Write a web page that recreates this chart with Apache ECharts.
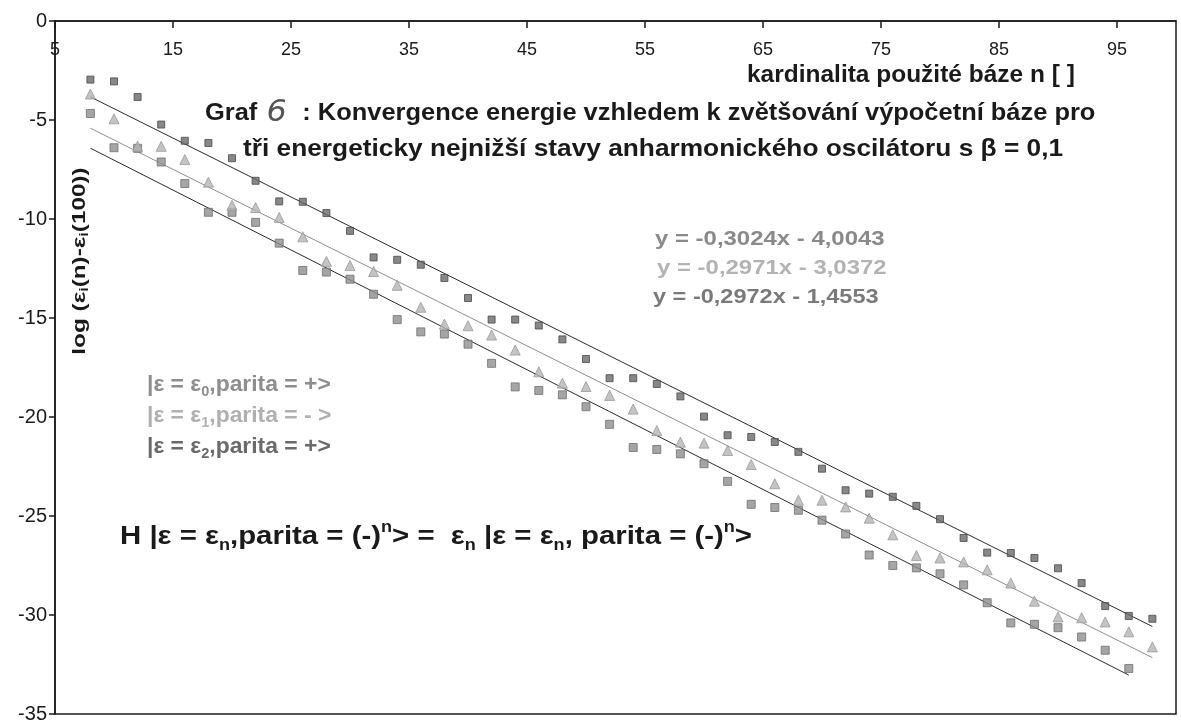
<!DOCTYPE html>
<html>
<head>
<meta charset="utf-8">
<script src="https://cdn.jsdelivr.net/npm/echarts@6/dist/echarts.min.js"></script>
<style>
  html, body { margin: 0; padding: 0; background: #fff; }
  #chart { width: 1181px; height: 724px; }
</style>
</head>
<body>
<div id="chart"></div>
<script>
// basis size n (even values)
const nValues = [8,10,12,14,16,18,20,22,24,26,28,30,32,34,36,38,40,42,44,46,48,50,52,54,56,58,60,62,64,66,68,70,72,74,76,78,80,82,84,86,88,90,92,94,96,98];

// log(eps_i(n) - eps_i(100)) for the three lowest states
const eps0Values = [-4.67,-6.40,-6.43,-7.12,-8.21,-9.66,-9.66,-10.17,-11.22,-12.60,-12.68,-13.04,-13.80,-15.08,-15.70,-15.81,-16.32,-17.29,-18.48,-18.66,-18.88,-19.48,-20.37,-21.54,-21.64,-21.86,-22.36,-23.25,-24.41,-24.57,-24.71,-25.21,-25.91,-26.97,-27.50,-27.62,-27.92,-28.48,-29.38,-30.40,-30.47,-30.64,-31.11,-31.78,-32.70];
const eps1Values = [-3.69,-4.94,-6.32,-6.33,-7.00,-8.14,-9.31,-9.42,-9.92,-10.90,-12.14,-12.35,-12.65,-13.35,-14.46,-15.31,-15.39,-15.86,-16.62,-17.72,-18.29,-18.46,-18.91,-19.60,-20.69,-21.27,-21.32,-21.69,-22.40,-23.37,-24.20,-24.20,-24.54,-25.11,-25.95,-27.00,-27.12,-27.32,-27.72,-28.39,-29.30,-30.10,-30.14,-30.35,-30.85,-31.61];
const eps2Values = [-2.96,-3.05,-3.84,-5.23,-6.05,-6.16,-6.93,-8.07,-9.11,-9.13,-9.70,-10.60,-11.94,-12.06,-12.31,-12.98,-13.99,-15.08,-15.08,-15.38,-16.08,-17.07,-18.04,-18.04,-18.33,-18.96,-19.98,-20.92,-21.01,-21.26,-21.76,-22.61,-23.70,-23.87,-24.03,-24.49,-25.16,-26.11,-26.85,-26.87,-27.12,-27.64,-28.39,-29.55,-30.05,-30.19];

// linear trend lines: y = slope * n + intercept
const trendSlopes     = [-0.3024, -0.2971, -0.2972];
const trendIntercepts = [-4.0043, -3.0372, -1.4553];
const trendRanges     = [[8, 96], [8, 98], [8, 98]];
const trendLabels = ['y = -0,3024x - 4,0043', 'y = -0,2971x - 3,0372', 'y = -0,2972x - 1,4553'];

// axis ticks
const xTicks = [5, 100, 10];   // min, max, interval
const yTicks = [-35, 0, 5];

const pairs = (xs, ys) => ys.map((y, i) => [xs[i], y]);
const trend = k => trendRanges[k].map(n => [n, trendSlopes[k] * n + trendIntercepts[k]]);

const chart = echarts.init(document.getElementById('chart'));
const FONT = '"Liberation Sans", Arial, sans-serif';
const INK = '#1a1a1a';

// plain bold text line, left-anchored and vertically centred at (x, y)
function label(txt, x, y, size, color, sx) {
  return {
    type: 'text', x: x, y: y, scaleX: sx || 1,
    style: { text: txt, fill: color, font: 'bold ' + size + 'px ' + FONT, align: 'left', verticalAlign: 'middle' }
  };
}

// rich-text line with sub/superscripts
function richLabel(txt, x, y, size, color, sx) {
  const lh = Math.round(size * 1.3);
  const small = Math.round(size * 0.62);
  return {
    type: 'text', x: x, y: y, scaleX: sx || 1,
    style: {
      text: txt, fill: color, align: 'left', verticalAlign: 'middle',
      rich: {
        b: { fontSize: size, fontWeight: 'bold', fontFamily: FONT, fill: color, lineHeight: lh },
        s: { fontSize: small, fontWeight: 'bold', fontFamily: FONT, fill: color, lineHeight: lh, verticalAlign: 'bottom' },
        p: { fontSize: small, fontWeight: 'bold', fontFamily: FONT, fill: color, lineHeight: lh, verticalAlign: 'top' }
      }
    }
  };
}

chart.setOption({
  backgroundColor: '#ffffff',
  animation: false,
  grid: { left: 55, right: 5, top: 21, bottom: 6, show: true, borderColor: INK, borderWidth: 1.5, backgroundColor: 'transparent' },
  xAxis: {
    type: 'value', position: 'top',
    min: xTicks[0], max: xTicks[1], interval: xTicks[2],
    axisLine: { show: true, onZero: false, lineStyle: { color: INK, width: 1.5 } },
    axisTick: { show: true, inside: true, length: 7, lineStyle: { color: INK, width: 1.5 } },
    axisLabel: { inside: true, margin: 20, showMaxLabel: false, fontFamily: FONT, fontSize: 18, color: INK },
    splitLine: { show: false }
  },
  yAxis: {
    type: 'value',
    min: yTicks[0], max: yTicks[1], interval: yTicks[2],
    axisLine: { show: true, onZero: false, lineStyle: { color: INK, width: 1.5 } },
    axisTick: { show: true, inside: false, length: 6, lineStyle: { color: INK, width: 1.5 } },
    axisLabel: { margin: 8, fontFamily: FONT, fontSize: 20, color: INK },
    splitLine: { show: false }
  },
  series: [
    { name: 'trend0', type: 'line', data: trend(0), symbol: 'none', silent: true, z: 1,
      lineStyle: { color: '#2b2b2b', width: 1 } },
    { name: 'trend1', type: 'line', data: trend(1), symbol: 'none', silent: true, z: 1,
      lineStyle: { color: '#8f8f8f', width: 1 } },
    { name: 'trend2', type: 'line', data: trend(2), symbol: 'none', silent: true, z: 1,
      lineStyle: { color: '#2b2b2b', width: 1 } },
    { name: 'eps0', type: 'scatter', data: pairs(nValues, eps0Values), symbol: 'rect', symbolSize: 8, z: 3,
      itemStyle: { color: '#8e8e8e', borderColor: '#6f6f6f', borderWidth: 1 } },
    { name: 'eps1', type: 'scatter', data: pairs(nValues, eps1Values), symbol: 'triangle', symbolSize: 10, z: 3,
      itemStyle: { color: '#b5b5b5', borderColor: '#9a9a9a', borderWidth: 1 } },
    { name: 'eps2', type: 'scatter', data: pairs(nValues, eps2Values), symbol: 'rect', symbolSize: 7, z: 3,
      itemStyle: { color: '#6a6a6a', borderColor: '#4a4a4a', borderWidth: 1 } }
  ],
  graphic: [
    label('kardinalita použité báze n [ ]', 747, 75, 24, INK, 1.02),
    {
      type: 'text', x: 205, y: 113, scaleX: 1.06,
      style: {
        text: '{b|Graf }{h|6}{b| : Konvergence energie vzhledem k zvětšování výpočetní báze pro}',
        fill: INK, align: 'left', verticalAlign: 'middle',
        rich: {
          b: { fontSize: 24, fontWeight: 'bold', fontFamily: FONT, fill: INK, lineHeight: 32 },
          h: { fontSize: 30, fontStyle: 'italic', fontWeight: 'normal', fontFamily: '"DejaVu Sans", sans-serif', fill: '#555', lineHeight: 32, padding: [0, 8, 0, 2] }
        }
      }
    },
    label('tři energeticky nejnižší stavy anharmonického oscilátoru s β = 0,1', 243, 149, 24, INK, 1.095),
    label(trendLabels[0], 655, 239, 21, '#8a8a8a', 1.14),
    label(trendLabels[1], 657, 268, 21, '#b3b3b3', 1.14),
    label(trendLabels[2], 653, 297, 21, '#7a7a7a', 1.12),
    richLabel('{b||ε = ε}{s|0}{b|,parita = +>}', 147, 385, 22, '#8e8e8e', 1.04),
    richLabel('{b||ε = ε}{s|1}{b|,parita = - >}', 147, 416, 22, '#b0b0b0', 1.04),
    richLabel('{b||ε = ε}{s|2}{b|,parita = +>}', 147, 447, 22, '#6a6a6a', 1.04),
    richLabel('{b|H |ε = ε}{s|n}{b|,parita = (-)}{p|n}{b|> =  ε}{s|n}{b| |ε = ε}{s|n}{b|, parita = (-)}{p|n}{b|>}',
      120, 537, 26, INK, 1.13),
    {
      type: 'text', x: 80, y: 261, rotation: Math.PI / 2, scaleX: 1.35,
      style: {
        text: '{b|log (ε}{s|i}{b|(n)-ε}{s|i}{b|(100))}',
        fill: INK, align: 'center', verticalAlign: 'middle',
        rich: {
          b: { fontSize: 18, fontWeight: 'bold', fontFamily: FONT, fill: INK, lineHeight: 22 },
          s: { fontSize: 12, fontWeight: 'bold', fontFamily: FONT, fill: INK, verticalAlign: 'bottom', lineHeight: 22 }
        }
      }
    }
  ]
});
</script>
</body>
</html>
